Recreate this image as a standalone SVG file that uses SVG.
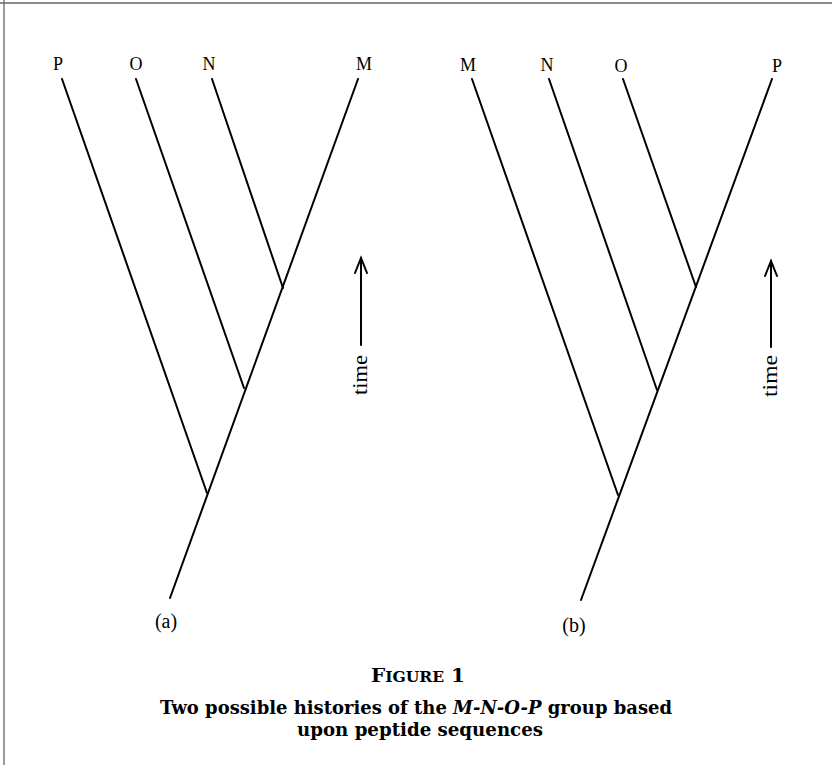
<svg xmlns="http://www.w3.org/2000/svg" width="832" height="765" viewBox="0 0 832 765">
<style>
.br{stroke:#000;stroke-width:2;fill:none;stroke-linecap:round}
.frame{stroke:#666;stroke-width:1.3;fill:none}
.lbl{font-family:"Liberation Serif","Times New Roman",serif;font-size:18px;fill:#000;text-anchor:middle}
.sub{font-family:"Liberation Serif","Times New Roman",serif;font-size:20px;fill:#000;text-anchor:middle}
.time{font-family:"Liberation Serif","Times New Roman",serif;font-size:20px;fill:#000;text-anchor:middle}
.cap{font-family:"DejaVu Serif","Liberation Serif",serif;font-weight:bold;font-size:18px;fill:#000;text-anchor:middle}
</style>
<rect width="832" height="765" fill="#fff"/>
<g id="frame">
<line class="frame" x1="0" y1="3" x2="832" y2="3"/>
<line class="frame" x1="4" y1="0" x2="4" y2="765"/>
</g>
<g id="connectors">
<line class="br" x1="358" y1="79" x2="170" y2="598"/>
<line class="br" x1="62" y1="79" x2="207" y2="493"/>
<line class="br" x1="136" y1="79" x2="244" y2="388"/>
<line class="br" x1="212" y1="79" x2="283" y2="288"/>
<line class="br" x1="772" y1="79" x2="581" y2="600"/>
<line class="br" x1="472" y1="79" x2="618" y2="495"/>
<line class="br" x1="549" y1="79" x2="657" y2="390"/>
<line class="br" x1="623" y1="79" x2="696" y2="287"/>
</g>
<g id="tips-a">
<text class="lbl" x="58" y="70">P</text>
<text class="lbl" x="136" y="70">O</text>
<text class="lbl" x="209" y="70">N</text>
<text class="lbl" x="364" y="70">M</text>
</g>
<g id="tips-b">
<text class="lbl" x="468" y="71">M</text>
<text class="lbl" x="547" y="71">N</text>
<text class="lbl" x="621" y="72">O</text>
<text class="lbl" x="777" y="72">P</text>
</g>
<g id="time-a">
<line class="br" x1="361" y1="345" x2="361" y2="258"/>
<polyline class="br" points="355,273 361,258 367,273"/>
<text class="time" transform="translate(367,375) rotate(-90)" textLength="40" lengthAdjust="spacingAndGlyphs">time</text>
</g>
<g id="time-b">
<line class="br" x1="771" y1="347" x2="771" y2="261"/>
<polyline class="br" points="765,276 771,261 777,276"/>
<text class="time" transform="translate(777,376) rotate(-90)" textLength="42" lengthAdjust="spacingAndGlyphs">time</text>
</g>
<g id="label-a"><text class="sub" x="166" y="628">(a)</text></g>
<g id="label-b"><text class="sub" x="574" y="632">(b)</text></g>
<g id="caption">
<text class="cap" x="418" y="682" textLength="94" lengthAdjust="spacingAndGlyphs">F<tspan font-size="14px">IGURE</tspan> 1</text>
<text class="cap" x="416" y="714" textLength="512" lengthAdjust="spacingAndGlyphs">Two possible histories of the <tspan font-style="italic">M-N-O-P</tspan> group based</text>
<text class="cap" x="420" y="736" textLength="246" lengthAdjust="spacingAndGlyphs">upon peptide sequences</text>
</g>
</svg>
